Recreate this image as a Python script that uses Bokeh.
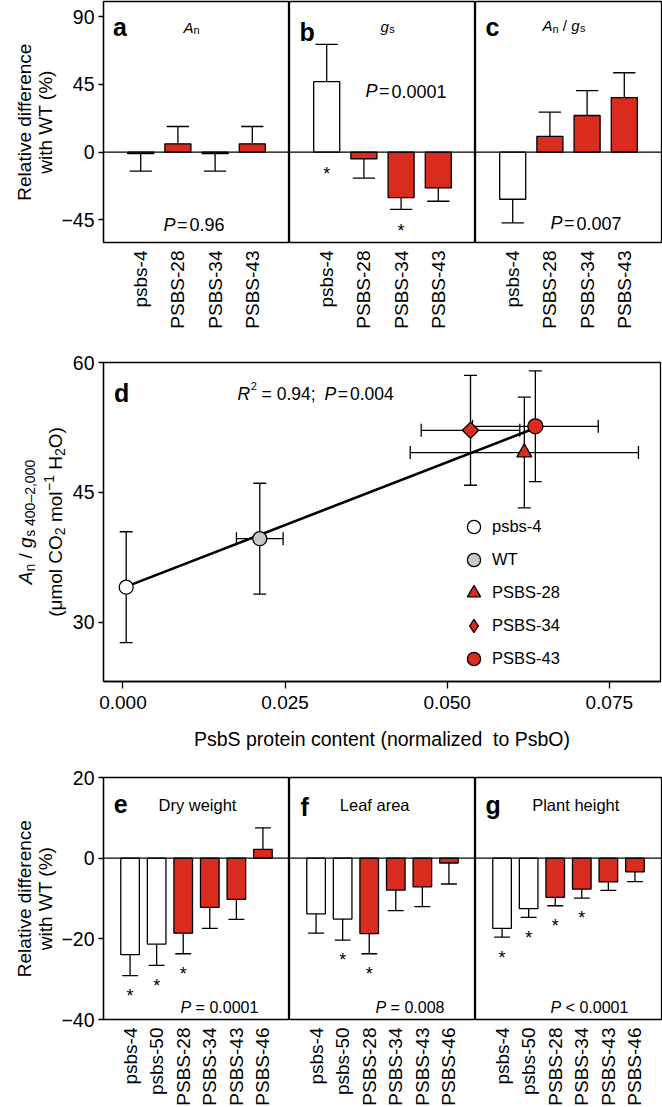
import math
import numpy as np
from bokeh.plotting import figure
from bokeh.models import (Range1d, FixedTicker, Span, Label, Legend, LegendItem,
                          Whisker, TeeHead, ColumnDataSource, NumeralTickFormatter)
from bokeh.layouts import column, row
from bokeh.embed import file_html
from bokeh.resources import INLINE
from bokeh.core.properties import value

# ---------------- data ----------------
top_lines = ["psbs-4", "PSBS-28", "PSBS-34", "PSBS-43"]
top_kind = ["mutant", "over", "over", "over"]

an_mean = [-1.0, 5.5, -1.0, 5.5]
an_err = [11.6, 11.5, 11.6, 11.5]
an_sig = [0, 0, 0, 0]

gs_mean = [46.8, -4.4, -30.2, -23.8]
gs_err = [24.7, 12.8, 7.8, 8.8]
gs_sig = [1, 0, 1, 0]

angs_mean = [-31.3, 10.4, 24.3, 36.2]
angs_err = [15.7, 16.1, 16.5, 16.5]
angs_sig = [0, 0, 0, 0]

top_p = ["0.96", "0.0001", "0.007"]

growth_lines = ["psbs-4", "psbs-50", "PSBS-28", "PSBS-34", "PSBS-43", "PSBS-46"]
growth_kind = ["mutant", "mutant", "over", "over", "over", "over"]

dw_mean = [-23.9, -21.3, -18.6, -12.2, -10.2, 2.2]
dw_err = [5.2, 5.3, 5.1, 5.2, 5.0, 5.3]
dw_sig = [1, 1, 1, 0, 0, 0]

la_mean = [-13.8, -15.1, -18.7, -7.9, -7.1, -1.2]
la_err = [4.8, 5.2, 5.0, 5.1, 4.9, 5.2]
la_sig = [0, 1, 1, 0, 0, 0]

ph_mean = [-17.4, -12.5, -9.7, -7.7, -5.9, -3.4]
ph_err = [2.2, 2.2, 2.1, 2.2, 2.1, 2.4]
ph_sig = [1, 1, 1, 1, 0, 0]

growth_p = [("=", "0.0001"), ("=", "0.008"), ("<", "0.0001")]

d_lines = ["psbs-4", "WT", "PSBS-28", "PSBS-34", "PSBS-43"]
d_psbs = [0.0005, 0.0211, 0.0619, 0.0536, 0.0636]
d_psbs_err = [0.0, 0.0036, 0.0176, 0.0076, 0.0097]
d_ratio = [34.05, 39.65, 49.6, 52.17, 52.63]
d_ratio_err = [6.4, 6.4, 6.4, 6.35, 6.4]
d_r2 = "0.94"
d_p = "0.004"

# ---------------- style ----------------
FONT = "Liberation Sans"
RED = "#D92B1E"
GREY = "#C8C8C8"
LW = 1.3
FW = 186
FH1, FH3 = 241, 242
DW, DH = 557, 319
LABW = 58          # column holding the rotated y titles (rows 1 and 3)
LABW_D = 68        # same for panel d
LEFT = 103 - LABW
LEFT_D = 103 - LABW_D
PAGE_W = 662

WID = {' ': 278, '(': 333, ')': 333, '-': 333, '–': 556, '−': 584, '/': 278, ',': 278,
       '.': 278, ';': 278, '=': 584, '<': 584, '%': 889, 'A': 667, 'B': 667, 'C': 722,
       'D': 722, 'H': 722, 'L': 556, 'O': 778, 'P': 667, 'R': 722, 'S': 667, 'T': 611,
       'W': 944, 'a': 556, 'b': 556, 'c': 500, 'd': 556, 'e': 556, 'f': 278, 'g': 556,
       'h': 556, 'i': 222, 'l': 222, 'm': 833, 'n': 556, 'o': 556, 'p': 556, 'r': 333,
       's': 500, 't': 278, 'v': 500, 'w': 722, 'y': 500, 'z': 500, 'μ': 576}


def tw(s, size):
    return sum(WID.get(c, 556) for c in s) * size / 1000.0


class Fr:
    def __init__(self, xr, yr, fw, fh):
        self.x0, self.x1 = xr
        self.y0, self.y1 = yr
        self.fw, self.fh = fw, fh

    def x(self, px):
        return self.x0 + px * (self.x1 - self.x0) / self.fw

    def y(self, py):
        return self.y1 - py * (self.y1 - self.y0) / self.fh

    def dy(self, px):
        return px * (self.y1 - self.y0) / self.fh


def put(p, fr, px, py, text, size, style="normal", align="left", angle=0.0):
    p.add_layout(Label(x=fr.x(px), y=fr.y(py), text=text, text_font=FONT,
                       text_font_size=f"{size}px", text_font_style=style,
                       text_align=align, text_baseline="alphabetic", angle=angle,
                       text_color="black"))


def rich(p, fr, px, py, pieces, center=False):
    # pieces: (text, size, style, rise_px, gap_px)
    x = px
    if center:
        x = px - sum(tw(t, s) + g for t, s, st, r, g in pieces) / 2.0
    for t, s, st, rise, gap in pieces:
        x += gap
        lead = len(t) - len(t.lstrip(' '))
        put(p, fr, x + lead * tw(' ', s), py - rise, t.strip(), s, st)
        x += tw(t, s)


def rich_v(p, fr, px, pyc, pieces):
    total = sum(tw(t, s) + g for t, s, st, r, g in pieces)
    y = pyc + total / 2.0
    for t, s, st, rise, gap in pieces:
        y -= gap
        lead = len(t) - len(t.lstrip(' '))
        put(p, fr, px - rise, y - lead * tw(' ', s), t.strip(), s, st, angle=math.pi / 2)
        y -= tw(t, s)


def make_fig(fw, fh, xr, yr, left, right, top, bottom, show_y, show_x=True):
    p = figure(frame_width=fw, frame_height=fh, x_range=Range1d(*xr), y_range=Range1d(*yr),
               min_border_left=left, min_border_right=right, min_border_top=top,
               min_border_bottom=bottom, output_backend="svg", toolbar_location=None,
               title=None, y_axis_location=("left" if show_y else None),
               x_axis_location=("below" if show_x else None))
    p.grid.visible = False
    p.outline_line_color = "black"
    p.outline_line_width = LW
    p.outline_line_alpha = 1.0
    p.background_fill_color = "white"
    p.border_fill_color = "white"
    return p


def text_box(width, height, top, bottom):
    """A bare figure (no axes, no outline) used only to hold axis-title text."""
    p = make_fig(width, height, (0, width), (0, height), 0, 0, top, bottom, False, False)
    p.outline_line_color = None
    return p, Fr((0, width), (0, height), width, height)


def title_column(width, fh, top, bottom, lines):
    p, fr = text_box(width, fh, top, bottom)
    for px, pieces in lines:
        rich_v(p, fr, px, fh / 2.0, pieces)
    return p


def style_axis(ax, size="19.5px", tick_out=5):
    ax.axis_line_color = "black"
    ax.axis_line_width = LW
    ax.major_tick_line_color = "black"
    ax.major_tick_line_width = LW
    ax.major_tick_in = 0
    ax.major_tick_out = tick_out
    ax.minor_tick_line_color = None
    ax.major_label_text_font = FONT
    ax.major_label_text_font_size = size
    ax.major_label_text_color = "black"


def bar_panel(labels, kinds, mean, err, sig, yr, yticks, fh, top, bottom, left, right,
              show_y, star_px):
    n = len(labels)
    xs = list(range(1, n + 1))
    xr = (0, n + 1)
    p = make_fig(FW, fh, xr, yr, left, right, top, bottom, show_y)
    fr = Fr(xr, yr, FW, fh)
    fills = ["white" if k == "mutant" else RED for k in kinds]
    p.vbar(x=xs, bottom=0, top=mean, width=0.7, fill_color=fills, line_color="black",
           line_width=LW)
    ends = [m + (e if m >= 0 else -e) for m, e in zip(mean, err)]
    p.segment(x0=xs, y0=mean, x1=xs, y1=ends, line_color="black", line_width=LW)
    p.segment(x0=[x - 0.3 for x in xs], y0=ends, x1=[x + 0.3 for x in xs], y1=ends,
              line_color="black", line_width=LW)
    p.add_layout(Span(location=0, dimension="width", line_color="black", line_width=LW))
    sx = [x for x, s in zip(xs, sig) if s]
    sy = [min(0.0, e) - fr.dy(star_px + 3.4) for e, s in zip(ends, sig) if s]
    if sx:
        p.text(x=sx, y=sy, text=["*"] * len(sx), text_font=value(FONT),
               text_font_size=value("18px"), text_align="center",
               text_baseline="alphabetic", text_color="black")
    ax = p.xaxis[0]
    style_axis(ax, size="19px", tick_out=0)
    ax.ticker = FixedTicker(ticks=xs)
    ax.major_label_overrides = {x: lab for x, lab in zip(xs, labels)}
    ax.major_label_orientation = math.pi / 2
    ax.axis_line_color = None
    ax.major_tick_line_color = None
    ax.major_label_standoff = 8
    if show_y:
        ay = p.yaxis[0]
        style_axis(ay)
        ay.ticker = FixedTicker(ticks=yticks)
        ay.major_label_overrides = {t: (str(t) if t >= 0 else "−" + str(-t)) for t in yticks}
        ay.major_label_standoff = 4
    return p, fr


def letter(p, fr, px, baseline, ch):
    put(p, fr, px, baseline, ch, 25, "bold")


REL_TITLE = [(24, [("Relative difference", 19, "normal", 0, 0)]),
             (45, [("with WT (%)", 19, "normal", 0, 0)])]

# ---------------- row 1 ----------------
TOP_YR = (-60, 100)
TOP_TICKS = [-45, 0, 45, 90]
R1_TOP, R1_BOT = 1, 108
lab1 = title_column(LABW, FH1, R1_TOP, R1_BOT, REL_TITLE)
fa, fra = bar_panel(top_lines, top_kind, an_mean, an_err, an_sig, TOP_YR, TOP_TICKS, FH1,
                    R1_TOP, R1_BOT, LEFT, 0, True, 18)
fb, frb = bar_panel(top_lines, top_kind, gs_mean, gs_err, gs_sig, TOP_YR, TOP_TICKS, FH1,
                    R1_TOP, R1_BOT, 0, 0, False, 18)
fc, frc = bar_panel(top_lines, top_kind, angs_mean, angs_err, angs_sig, TOP_YR, TOP_TICKS,
                    FH1, R1_TOP, R1_BOT, 0, 1, False, 18)

letter(fa, fra, 9.5, 25.7, "a")
letter(fb, frb, 10, 30.7, "b")
letter(fc, frc, 10, 25, "c")
rich(fa, fra, 80, 25.7, [("A", 15, "italic", 0, 0), ("n", 11, "normal", -3, 0)])
rich(fb, frb, 91, 25, [("g", 15, "italic", 0, 0), ("s", 11, "normal", -2.5, 0.5)])
rich(fc, frc, 67, 24, [("A", 15, "italic", 0, 0), ("n", 11, "normal", -3, 0),
                       (" / ", 15, "normal", 0, 0), ("g", 15, "italic", 0, 0),
                       ("s", 11, "normal", -2.5, 0.5)])
for p_, fr_, px, py, pv in [(fa, fra, 60, 223, top_p[0]), (fb, frb, 76, 89.7, top_p[1]),
                            (fc, frc, 75, 221.7, top_p[2])]:
    rich(p_, fr_, px, py, [("P", 18, "italic", 0, 0), ("=", 18, "normal", 0, 1.5),
                           (pv, 18, "normal", 0, 2.0)])

# ---------------- row 2 (panel d) ----------------
D_XR = (-0.003, 0.0829)
D_YR = (23.15, 60)
R2_TOP, R2_BOT = 12, 44
labd = title_column(LABW_D, DH, R2_TOP, R2_BOT, [
    (25, [("A", 19, "italic", 0, 0), ("n", 14, "normal", -4, 0), (" / ", 19, "normal", 0, 0),
          ("g", 19, "italic", 0, 0), ("s 400–2,000", 14, "normal", -4, 0.5)]),
    (55, [("(μmol CO", 19, "normal", 0, 0), ("2", 14, "normal", -4, 0),
          (" mol", 19, "normal", 0, 0), ("−1", 14, "normal", 7, 0.5),
          (" H", 19, "normal", 0, 0), ("2", 14, "normal", -4, 0), ("O)", 19, "normal", 0, 0)])])
fd = make_fig(DW, DH, D_XR, D_YR, LEFT_D, 2, R2_TOP, R2_BOT, True)
frd = Fr(D_XR, D_YR, DW, DH)

slope, icpt = np.polyfit(d_psbs, d_ratio, 1)
xl = [min(d_psbs), max(d_psbs)]

vsrc = ColumnDataSource(dict(x=d_psbs,
                             lo=[v - e for v, e in zip(d_ratio, d_ratio_err)],
                             hi=[v + e for v, e in zip(d_ratio, d_ratio_err)]))
fd.add_layout(Whisker(source=vsrc, base="x", lower="lo", upper="hi", dimension="height",
                      line_color="black", line_width=LW,
                      lower_head=TeeHead(size=13, line_width=LW, line_color="black"),
                      upper_head=TeeHead(size=13, line_width=LW, line_color="black")))
hidx = [i for i, e in enumerate(d_psbs_err) if e > 0]
hsrc = ColumnDataSource(dict(y=[d_ratio[i] for i in hidx],
                             lo=[d_psbs[i] - d_psbs_err[i] for i in hidx],
                             hi=[d_psbs[i] + d_psbs_err[i] for i in hidx]))
fd.add_layout(Whisker(source=hsrc, base="y", lower="lo", upper="hi", dimension="width",
                      line_color="black", line_width=LW,
                      lower_head=TeeHead(size=13, line_width=LW, line_color="black"),
                      upper_head=TeeHead(size=13, line_width=LW, line_color="black")))
fd.line(xl, [icpt + slope * v for v in xl], line_color="black", line_width=2.6)

marker_style = {"psbs-4": ("circle", "white", 14, 0.0),
                "WT": ("circle", GREY, 14, 0.0),
                "PSBS-28": ("triangle", RED, 15, 0.0),
                "PSBS-34": ("square", RED, 11.5, math.pi / 4),
                "PSBS-43": ("circle", RED, 15, 0.0)}
items = []
for i, name in enumerate(d_lines):
    mk, col, sz, ang = marker_style[name]
    r = fd.scatter(x=[d_psbs[i]], y=[d_ratio[i]], marker=mk, size=sz, angle=ang,
                   fill_color=col, line_color="black", line_width=LW)
    rend = [r]
    if ang != 0.0:
        # legend swatch drawn as a diamond (legend glyphs ignore the marker angle)
        rend = [fd.scatter(x=[float("nan")], y=[float("nan")], marker="diamond", size=sz,
                           fill_color=col, line_color="black", line_width=LW)]
    items.append(LegendItem(label=name, renderers=rend))
leg = Legend(items=items, location=(354, 6), glyph_width=33, glyph_height=33,
             label_standoff=2, spacing=0, padding=0, margin=0, border_line_color=None,
             background_fill_alpha=0, label_text_font=FONT, label_text_font_size="16.5px",
             label_height=20, label_text_color="black")
fd.add_layout(leg)

ax = fd.xaxis[0]
style_axis(ax, size="19px", tick_out=7)
ax.ticker = FixedTicker(ticks=[0, 0.025, 0.05, 0.075])
ax.formatter = NumeralTickFormatter(format="0.000")
ax.major_label_standoff = 7
ay = fd.yaxis[0]
style_axis(ay)
ay.ticker = FixedTicker(ticks=[30, 45, 60])
ay.major_label_standoff = 4

letter(fd, frd, 10.6, 30, "d")
rich(fd, frd, 134, 31.3, [("R", 17.5, "italic", 0, 0), ("2", 11, "normal", 7.5, 0.5),
                          (" = ", 17.5, "normal", 0, 0), (d_r2 + ";", 17.5, "normal", 0, 0),
                          ("P", 17.5, "italic", 0, 9), ("=", 17.5, "normal", 0, 1.5),
                          (d_p, 17.5, "normal", 0, 2.0)])

# x-axis title of panel d, in its own text strip under the plot
XLAB_H = 40
xlab, frx = text_box(PAGE_W, XLAB_H, 0, 0)
rich(xlab, frx, 103 + DW / 2.0, 13.5,
     [("PsbS protein content (normalized", 19.5, "normal", 0, 0),
      ("  to PsbO)", 19.5, "normal", 0, 0)], center=True)

# ---------------- row 3 ----------------
G_YR = (-40, 20)
G_TICKS = [-40, -20, 0, 20]
R3_TOP, R3_BOT = 12, 87
lab3 = title_column(LABW, FH3, R3_TOP, R3_BOT, REL_TITLE)
fe, fre = bar_panel(growth_lines, growth_kind, dw_mean, dw_err, dw_sig, G_YR, G_TICKS, FH3,
                    R3_TOP, R3_BOT, LEFT, 0, True, 17)
ff, frf = bar_panel(growth_lines, growth_kind, la_mean, la_err, la_sig, G_YR, G_TICKS, FH3,
                    R3_TOP, R3_BOT, 0, 0, False, 17)
fg, frg = bar_panel(growth_lines, growth_kind, ph_mean, ph_err, ph_sig, G_YR, G_TICKS, FH3,
                    R3_TOP, R3_BOT, 0, 1, False, 17)
letter(fe, fre, 10.3, 26.3, "e")
letter(ff, frf, 11, 29.7, "f")
letter(fg, frg, 10, 27, "g")
put(fe, fre, 55, 27.3, "Dry weight", 16.5)
put(ff, frf, 50.3, 27.7, "Leaf area", 16.5)
put(fg, frg, 56.7, 27.7, "Plant height", 16.5)
for p_, fr_, px, (op, pv) in [(fe, fre, 77, growth_p[0]), (ff, frf, 86, growth_p[1]),
                             (fg, frg, 75, growth_p[2])]:
    rich(p_, fr_, px, 230.3, [("P", 16, "italic", 0, 0), (" " + op + " " + pv, 16, "normal", 0, 0)])

layout = column(row(lab1, fa, fb, fc), row(labd, fd), xlab, row(lab3, fe, ff, fg))
with open("out.html", "w", encoding="utf-8") as f:
    f.write(file_html(layout, INLINE))
